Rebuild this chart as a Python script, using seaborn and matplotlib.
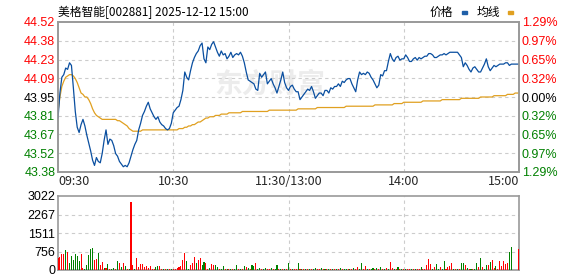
import matplotlib
matplotlib.use("Agg")
import matplotlib.pyplot as plt
import matplotlib.patches as mpatches
import numpy as np
import pandas as pd
import seaborn as sns

# ---------------- data ----------------
title = "美格智能[002881] 2025-12-12 15:00"
prev_close = 43.95
price_ticklabels = ["43.38", "43.52", "43.67", "43.81", "43.95", "44.09", "44.23", "44.38", "44.52"]
pct_ticklabels = ["1.29%", "0.97%", "0.65%", "0.32%", "0.00%", "0.32%", "0.65%", "0.97%", "1.29%"]
time_labels = ["09:30", "10:30", "11:30/13:00", "14:00", "15:00"]
vol_ticklabels = ["0", "756", "1511", "2267", "3022"]

price = [
    43.79, 43.98, 44.10, 44.12, 44.17, 44.16, 44.21, 44.19, 44.02, 43.84,
    43.72, 43.68, 43.74, 43.78, 43.73, 43.66, 43.60, 43.54, 43.47, 43.43,
    43.49, 43.46, 43.45, 43.52, 43.62, 43.70, 43.59, 43.63, 43.62, 43.58,
    43.52, 43.50, 43.46, 43.44, 43.42, 43.43, 43.42, 43.45, 43.50, 43.55,
    43.59, 43.62, 43.70, 43.75, 43.81, 43.84, 43.88, 43.91, 43.86, 43.83,
    43.80, 43.78, 43.80, 43.76, 43.74, 43.73, 43.71, 43.70, 43.71, 43.75,
    43.83, 43.85, 43.87, 43.88, 43.93, 44.00, 44.14, 44.10, 44.08, 44.15,
    44.21, 44.25, 44.28, 44.30, 44.34, 44.36, 44.24, 44.21, 44.33, 44.31,
    44.35, 44.37, 44.33, 44.29, 44.26, 44.30, 44.27, 44.28, 44.24, 44.26,
    44.29, 44.25, 44.27, 44.28, 44.27, 44.29, 44.26, 44.21, 44.14, 44.08,
    44.07, 44.06, 44.05, 44.01, 44.00, 44.13, 44.10, 44.12, 44.14, 44.05,
    44.07, 44.09, 44.05, 44.02, 43.98, 44.03, 44.08, 44.14, 44.06, 44.02,
    44.00, 44.03, 44.04, 44.01, 43.99, 43.99, 43.93, 43.95, 43.97, 43.99,
    44.01, 44.00, 44.03, 43.99, 43.94, 43.96, 43.98, 43.98, 43.96, 44.00,
    44.00, 43.98, 44.02, 44.01, 44.03, 44.03, 44.05, 44.03, 44.07, 44.06,
    44.08, 44.09, 44.09, 44.05, 44.02, 43.99, 44.08, 44.14, 44.12, 44.13,
    44.12, 44.14, 44.13, 44.10, 44.08, 44.05, 44.02, 44.04, 44.12, 44.11,
    44.15, 44.15, 44.22, 44.28, 44.24, 44.22, 44.25, 44.26, 44.23, 44.24,
    44.24, 44.27, 44.25, 44.22, 44.22, 44.24, 44.25, 44.23, 44.25, 44.24,
    44.25, 44.26, 44.26, 44.28, 44.28, 44.27, 44.25, 44.25, 44.26, 44.27,
    44.27, 44.28, 44.27, 44.28, 44.29, 44.29, 44.29, 44.29, 44.29, 44.27,
    44.25, 44.18, 44.21, 44.19, 44.16, 44.14, 44.17, 44.18, 44.16, 44.14,
    44.14, 44.17, 44.20, 44.24, 44.18, 44.15, 44.17, 44.19, 44.18, 44.19,
    44.20, 44.20, 44.20, 44.21, 44.21, 44.19, 44.20, 44.20, 44.20, 44.20,
    44.20,
]

avg_price = [
    43.84, 43.95, 44.03, 44.07, 44.10, 44.11, 44.12, 44.12, 44.11, 44.09,
    44.06, 44.02, 43.98, 43.97, 43.95, 43.95, 43.93, 43.90, 43.86, 43.83,
    43.81, 43.80, 43.79, 43.78, 43.78, 43.78, 43.78, 43.78, 43.78, 43.78,
    43.78, 43.77, 43.77, 43.76, 43.75, 43.74, 43.73, 43.71, 43.70, 43.69,
    43.69, 43.69, 43.69, 43.69, 43.70, 43.70, 43.70, 43.70, 43.70, 43.70,
    43.70, 43.70, 43.70, 43.70, 43.70, 43.70, 43.70, 43.70, 43.70, 43.70,
    43.70, 43.70, 43.70, 43.71, 43.71, 43.71, 43.72, 43.72, 43.73, 43.73,
    43.74, 43.74, 43.75, 43.76, 43.76, 43.77, 43.78, 43.79, 43.79, 43.80,
    43.80, 43.80, 43.81, 43.81, 43.81, 43.82, 43.82, 43.82, 43.82, 43.83,
    43.83, 43.83, 43.83, 43.83, 43.83, 43.83, 43.84, 43.84, 43.84, 43.84,
    43.84, 43.84, 43.84, 43.84, 43.84, 43.84, 43.84, 43.84, 43.84, 43.84,
    43.85, 43.85, 43.85, 43.85, 43.85, 43.85, 43.85, 43.85, 43.85, 43.85,
    43.85, 43.85, 43.85, 43.85, 43.85, 43.86, 43.86, 43.86, 43.86, 43.86,
    43.86, 43.86, 43.86, 43.86, 43.86, 43.87, 43.87, 43.87, 43.87, 43.87,
    43.87, 43.87, 43.87, 43.87, 43.87, 43.87, 43.87, 43.87, 43.87, 43.87,
    43.88, 43.88, 43.88, 43.88, 43.88, 43.88, 43.88, 43.88, 43.88, 43.88,
    43.88, 43.88, 43.88, 43.88, 43.88, 43.89, 43.89, 43.89, 43.89, 43.89,
    43.89, 43.89, 43.89, 43.89, 43.89, 43.90, 43.90, 43.90, 43.90, 43.90,
    43.91, 43.91, 43.91, 43.91, 43.91, 43.91, 43.91, 43.91, 43.91, 43.91,
    43.92, 43.92, 43.92, 43.92, 43.92, 43.92, 43.92, 43.92, 43.92, 43.92,
    43.93, 43.93, 43.93, 43.93, 43.93, 43.93, 43.93, 43.93, 43.93, 43.93,
    43.94, 43.94, 43.94, 43.94, 43.94, 43.94, 43.94, 43.94, 43.94, 43.94,
    43.95, 43.95, 43.95, 43.95, 43.95, 43.95, 43.95, 43.96, 43.96, 43.96,
    43.96, 43.96, 43.96, 43.96, 43.97, 43.97, 43.97, 43.97, 43.98, 43.98,
    43.98,
]

volume = [
    480, 542, 664, 664, 800, 745, 285, 583, 420, 664,
    555, 350, 664, 80, 60, 217, 623, 854, 908, 420,
    460, 705, 217, 312, 68, 80, 257, 50, 60, 90,
    50, 380, 285, 120, 298, 149, 60, 40, 2778, 217,
    60, 488, 120, 257, 257, 120, 170, 100, 170, 50,
    50, 120, 170, 170, 50, 50, 40, 40, 40, 40,
    40, 40, 80, 120, 170, 420, 705, 380, 50, 217,
    285, 528, 285, 420, 501, 217, 339, 285, 40, 80,
    257, 217, 200, 120, 50, 50, 170, 40, 40, 40,
    40, 40, 40, 217, 50, 50, 40, 170, 120, 90,
    40, 217, 170, 285, 50, 90, 60, 40, 80, 50,
    50, 80, 40, 50, 217, 50, 50, 40, 50, 50,
    285, 50, 50, 40, 50, 298, 50, 40, 50, 40,
    50, 40, 50, 60, 90, 50, 40, 90, 50, 40,
    50, 50, 40, 60, 50, 40, 50, 90, 60, 50,
    40, 50, 60, 50, 90, 60, 120, 50, 298, 60,
    170, 50, 60, 50, 100, 60, 90, 50, 120, 60,
    60, 90, 50, 339, 90, 60, 50, 120, 50, 60,
    50, 60, 50, 60, 50, 60, 40, 50, 60, 120,
    50, 60, 217, 460, 257, 60, 120, 257, 60, 120,
    60, 380, 50, 120, 170, 298, 60, 60, 50, 60,
    298, 298, 200, 90, 50, 60, 60, 50, 298, 120,
    501, 120, 60, 217, 217, 339, 420, 90, 170, 60,
    380, 170, 380, 257, 298, 745, 950, 0, 0, 0,
    868,
]

direction = (
    "rrrrgrgggg" "ggrrggggg" "r"
    "rgrrgrgrgg" "rgrgrgrgrr" "grrrrrrrrr"
    "rggrrgrgrg" "rrrrrrrggr" "rrgrrggrrg"
    "rrggrggrgr" "grggrgrgrg" "rggrggrggr"
    "rgrggrgrgr" "grgrrgrgrg" "rgrggrrgrg"
    "rgrgrgrgrg" "grgrgrrggr" "rgrggrgrgr"
    "grgrrgrgrg" "rgrrgrgrrg" "rrrrrgrggr"
    "ggrrrrgrgr" "ggrgrgrggr" "grggrgrrgr"
    "rrrrrggrrr" "r"
)

minutes = list(range(len(price)))

# ---------------- style ----------------
sns.set_style("white")
plt.rcParams["font.family"] = ["Liberation Sans", "DejaVu Sans"]

RED = "#ff0000"
GREEN = "#008000"
GRID = "#cccccc"
SPINE = "#999999"
BLUE = "#0a4fa0"
GOLD = "#e0a020"
CJK = ["Noto Sans CJK SC", "DejaVu Sans"]

fig = plt.figure(figsize=(5.78, 2.76), dpi=100)
fig.patch.set_facecolor("white")

ax = fig.add_axes([58 / 578, 1 - 172 / 276, 461 / 578, 150 / 276])
axv = fig.add_axes([58 / 578, 1 - 270 / 276, 461 / 578, 74 / 276])

df = pd.DataFrame({"minute": minutes, "price": price, "avg": avg_price,
                   "volume": volume, "dir": list(direction[:len(price)])})

# watermark
ax.text(0.46, 0.58, "东方财富", transform=ax.transAxes, fontsize=20,
        fontweight="bold", style="italic", color="#ececec", ha="center",
        va="center", family=CJK, zorder=0)

sns.lineplot(data=df, x="minute", y="avg", ax=ax, color=GOLD, lw=0.9, zorder=3)
sns.lineplot(data=df, x="minute", y="price", ax=ax, color=BLUE, lw=0.9, zorder=4)

ymin, ymax = 43.38, 44.52
ax.set_xlim(0, 240)
ax.set_ylim(ymin, ymax)
yt = np.linspace(ymin, ymax, len(price_ticklabels))
ax.set_yticks(yt)
ax.set_yticklabels(price_ticklabels)
colors_left = [GREEN] * 4 + ["black"] + [RED] * 4
for lab, c in zip(ax.get_yticklabels(), colors_left):
    lab.set_color(c)
ax.set_xticks([0, 60, 120, 180, 240])
ax.set_xticklabels(time_labels, family=CJK, fontsize=8.5)
xl = ax.get_xticklabels()
xl[0].set_ha("left")
xl[-1].set_ha("right")
ax.tick_params(axis="both", length=0, labelsize=9)
ax.tick_params(axis="y", pad=2)
ax.tick_params(axis="x", pad=2)
ax.set_xlabel("")
ax.set_ylabel("")
for v in yt[1:-1]:
    ax.axhline(v, color=GRID, lw=0.8, ls=(0, (3, 3)), zorder=1)
for v in [60, 120, 180]:
    ax.axvline(v, color=GRID, lw=0.8, ls=(0, (3, 3)), zorder=1)

ax2 = ax.twinx()
ax2.set_ylim(ymin, ymax)
ax2.set_yticks(yt)
ax2.set_yticklabels(pct_ticklabels)
for lab, c in zip(ax2.get_yticklabels(), colors_left):
    lab.set_color(c)
ax2.tick_params(axis="y", length=0, labelsize=9, pad=2)

for a in (ax, ax2, axv):
    for s in a.spines.values():
        s.set_color(SPINE)
        s.set_linewidth(1.2)

# volume
sns.barplot(data=df, x="minute", y="volume", hue="dir",
            palette={"r": RED, "g": GREEN}, native_scale=True, dodge=False,
            width=0.55, errorbar=None, legend=False, ax=axv, linewidth=0,
            saturation=1, zorder=3)
axv.set_xlim(0, 240)
axv.set_ylim(0, 3022)
vt = np.linspace(0, 3022, len(vol_ticklabels))
axv.set_yticks(vt)
axv.set_yticklabels(vol_ticklabels)
axv.set_xticks([])
axv.set_xlabel("")
axv.set_ylabel("")
axv.tick_params(axis="y", length=0, labelsize=9, pad=2, colors="black")
for v in vt[1:-1]:
    axv.axhline(v, color=GRID, lw=0.8, ls=(0, (3, 3)), zorder=1)
for v in [60, 120, 180]:
    axv.axvline(v, color=GRID, lw=0.8, ls=(0, (3, 3)), zorder=1)

# title and legend
fig.text(58 / 578, 1 - 12 / 276, title, family=CJK, fontsize=8.5,
         va="center", ha="left", color="black")
fig.text(430 / 578, 1 - 12 / 276, "价格", family=CJK, fontsize=8.5,
         va="center", ha="left", color="black")
fig.text(477 / 578, 1 - 12 / 276, "均线", family=CJK, fontsize=8.5,
         va="center", ha="left", color="black")
fig.patches.append(mpatches.Rectangle((462 / 578, 1 - 14 / 276), 5 / 578, 3 / 276,
                                      transform=fig.transFigure, color="#1f5fa8"))
fig.patches.append(mpatches.Rectangle((508 / 578, 1 - 14 / 276), 5 / 578, 3 / 276,
                                      transform=fig.transFigure, color="#e0a020"))

fig.savefig("out.png", dpi=100)
